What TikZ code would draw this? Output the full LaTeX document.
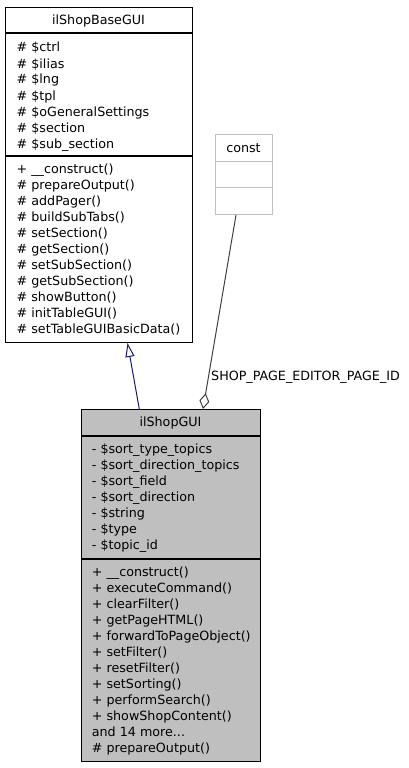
\documentclass[tikz,border=0pt]{standalone}
\usepackage{fontspec}
\setmainfont{DejaVu Sans}
\usetikzlibrary{arrows.meta,calc}
\definecolor{guifill}{HTML}{BFBFBF}
\definecolor{constline}{HTML}{BFBFBF}
\definecolor{aggline}{HTML}{404040}
\definecolor{inhline}{HTML}{191970}
\newcommand{\moredots}{.{}.{}.}
\begin{document}
\begin{tikzpicture}[x=1pt,y=-1pt,
  every node/.style={font=\fontsize{12.7}{15}\selectfont, inner sep=0pt},
  member/.style={anchor=base west},
  title/.style={anchor=base},
  classbox/.style={draw=black, line width=1pt, anchor=north west, minimum width=#1, inner sep=0pt},
  divider/.style={line width=1.3pt},
  inh/.style={draw=inhline, line width=1pt, -{Triangle[open, length=14pt, width=9pt]}},
  agg/.style={draw=aggline, line width=1pt, -{Diamond[open, length=16pt, width=10pt]}}]
\useasboundingbox (0,0) rectangle (409,768);
% ---- ilShopBaseGUI ----
\node[classbox=187pt, minimum height=335pt] (base) at (5,7) {};
\draw[divider] (5,33) -- (192,33);
\draw[divider] (5,156) -- (192,156);
\node[title] (baset) at (98.5,24.5) {ilShopBaseGUI};
\foreach \t [count=\i from 0] in {\# \$ctrl, \# \$ilias, \# \$lng, \# \$tpl, \# \$oGeneralSettings, \# \$section, \# \$sub\_section}
  \node[member] (ba\i) at (16.5,52+16*\i) {\t};
\foreach \t [count=\i from 0] in {+ \_\_construct(), \# prepareOutput(), \# addPager(), \# buildSubTabs(), \# setSection(), \# getSection(), \# setSubSection(), \# getSubSection(), \# showButton(), \# initTableGUI(), \# setTableGUIBasicData()}
  \node[member] (bm\i) at (16.5,173+16*\i) {\t};
% ---- const ----
\node[draw=constline, line width=1pt, anchor=north west, minimum width=57pt, minimum height=80pt] (const) at (215,134) {};
\draw[constline, line width=1pt] (215,161.5) -- (272,161.5);
\draw[constline, line width=1pt] (215,187.5) -- (272,187.5);
\node[title] (constt) at (243.5,152) {const};
% ---- ilShopGUI ----
\node[classbox=179pt, minimum height=352pt, fill=guifill] (gui) at (81,409) {};
\draw[divider] (81,436) -- (260,436);
\draw[divider] (81,559) -- (260,559);
\node[title] (guit) at (170.5,426) {ilShopGUI};
\foreach \t [count=\i from 0] in {- \$sort\_type\_topics, - \$sort\_direction\_topics, - \$sort\_field, - \$sort\_direction, - \$string, - \$type, - \$topic\_id}
  \node[member] (ga\i) at (91.7,453+16*\i) {\t};
\foreach \t [count=\i from 0] in {+ \_\_construct(), + executeCommand(), + clearFilter(), + getPageHTML(), + forwardToPageObject(), + setFilter(), + resetFilter(), + setSorting(), + performSearch(), + showShopContent(), and 14 more\moredots, \# prepareOutput()}
  \node[member] (gm\i) at (91.7,576+16*\i) {\t};
% ---- connectors ----
\draw[inh] ($(gui.north west)+(58.3,0)$) -- ($(base.south west)+(122.5,0)$);
\draw[agg] ($(const.south west)+(21,0)$) -- ($(gui.north west)+(122,0)$);
\node[anchor=base west] (lbl) at (211,380) {SHOP\_PAGE\_EDITOR\_PAGE\_ID};
\end{tikzpicture}
\end{document}
